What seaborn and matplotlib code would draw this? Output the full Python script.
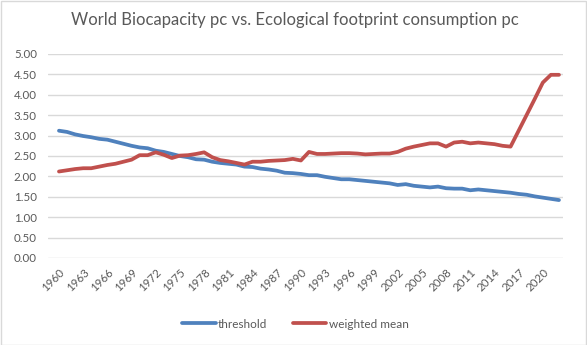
import numpy as np
import pandas as pd
import matplotlib
matplotlib.use("Agg")
import matplotlib.pyplot as plt
import seaborn as sns
from matplotlib.patches import Rectangle

years = list(range(1960, 2023))
threshold = [3.12, 3.09, 3.03, 2.99, 2.96, 2.92, 2.90, 2.85, 2.80, 2.75,
             2.71, 2.69, 2.63, 2.60, 2.55, 2.50, 2.47, 2.42, 2.41, 2.36,
             2.33, 2.31, 2.29, 2.24, 2.23, 2.19, 2.17, 2.14, 2.09, 2.08,
             2.06, 2.03, 2.03, 1.99, 1.96, 1.93, 1.93, 1.91, 1.89, 1.87,
             1.85, 1.83, 1.79, 1.81, 1.77, 1.75, 1.73, 1.75, 1.71, 1.70,
             1.70, 1.66, 1.68, 1.66, 1.64, 1.62, 1.60, 1.57, 1.55, 1.51,
             1.48, 1.45, 1.42]
weighted_mean = [2.12, 2.15, 2.18, 2.20, 2.20, 2.24, 2.28, 2.31, 2.36, 2.41,
                 2.52, 2.52, 2.59, 2.53, 2.45, 2.51, 2.52, 2.55, 2.59, 2.47,
                 2.40, 2.37, 2.33, 2.29, 2.36, 2.36, 2.38, 2.39, 2.40, 2.43,
                 2.39, 2.60, 2.55, 2.55, 2.56, 2.57, 2.57, 2.56, 2.54, 2.55,
                 2.56, 2.56, 2.60, 2.68, 2.73, 2.77, 2.81, 2.81, 2.73, 2.83,
                 2.85, 2.81, 2.83, 2.81, 2.79, 2.75, 2.73, 3.12, 3.51, 3.90,
                 4.30, 4.49, 4.49]
series_names = ["threshold", "weighted mean"]
y_ticks = [0.0, 0.5, 1.0, 1.5, 2.0, 2.5, 3.0, 3.5, 4.0, 4.5, 5.0]

sns.set_theme(style="white")
plt.rcParams['font.family'] = ['Lato', 'DejaVu Sans']

idx = list(range(len(years)))
df = pd.DataFrame({
    "idx": idx * 2,
    "value": threshold + weighted_mean,
    "series": [series_names[0]] * len(years) + [series_names[1]] * len(years),
})

fig = plt.figure(figsize=(5.87, 3.45), dpi=100)
ax = fig.add_axes([48/587, 1-258/345, (563-48)/587, (258-54)/345])

palette = {"threshold": "#4f81bd", "weighted mean": "#c0504d"}
sns.lineplot(data=df, x="idx", y="value", hue="series", palette=palette,
             linewidth=2.7, ax=ax, legend=True)

ax.set_xlim(-1.36, 62.5)
ax.set_ylim(0, 5)
ax.set_yticks(y_ticks)
ax.set_yticklabels([f"{v:.2f}" for v in y_ticks], color="#595959", fontsize=8.3)
ax.yaxis.grid(True, color="#d9d9d9", linewidth=1)
ax.set_axisbelow(True)
tick_pos = idx[::3]
ax.set_xticks(tick_pos)
ax.set_xticklabels([str(years[i]) for i in tick_pos], rotation=45, ha="right",
                   rotation_mode="anchor", color="#595959", fontsize=8.3)
ax.tick_params(axis="both", length=0)
ax.tick_params(axis="y", pad=8)
ax.tick_params(axis="x", pad=6)
for s in ax.spines.values():
    s.set_visible(False)
ax.set_xlabel("")
ax.set_ylabel("")

leg = ax.legend(loc="upper center", bbox_to_anchor=(0.5 - 10/515, -0.245), ncol=2,
                frameon=False, fontsize=8.5, handlelength=2.8, columnspacing=2.2,
                handletextpad=0.2)
for t in leg.get_texts():
    t.set_color("#595959")

fig.suptitle("World Biocapacity pc vs. Ecological footprint consumption pc",
             x=0.503, y=1-20/345, va="center", fontsize=12, color="#595959")

fig.patches.append(Rectangle((0.5/587, 0.5/345), 1-1.5/587, 1-1.5/345, transform=fig.transFigure,
                             fill=False, edgecolor="#d9d9d9", linewidth=1))
fig.savefig("out.png", dpi=100, facecolor="white")
